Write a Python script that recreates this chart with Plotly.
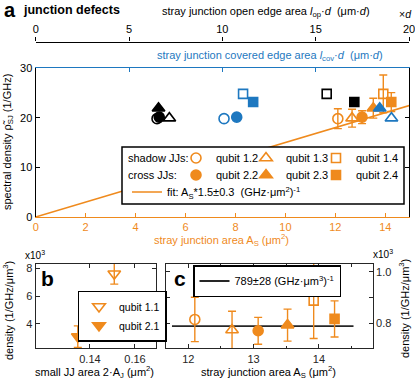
import plotly.graph_objects as go

W, H = 415, 379
FONT = "Liberation Sans, Arial, sans-serif"
ORANGE = "#EF8A1D"
BLUE = "#1E78C0"
BLACK = "#000000"
AXC = "#262626"

# ---------------- data ----------------
qubits = ["1.2", "1.3", "1.4", "2.2", "2.3", "2.4"]
symbols = ["circle-open", "triangle-up-open", "square-open", "circle", "triangle-up", "square"]
msizes = [10, 11, 9, 10, 11, 9]

# panel a
area_S = [12.10, 12.67, 13.92, 13.07, 13.52, 14.24]        # stray junction area (um^2)
open_edge = [6.5, 7.16, 15.59, 6.62, 6.58, 17.07]          # l_op * d
cov_edge = [10.09, 19.06, 11.11, 10.77, 18.43, 11.65]      # l_cov * d
rho_SJ = [19.8, 19.9, 24.8, 20.1, 21.9, 23.15]             # 1/GHz
rho_SJ_err = [2.0, 1.8, 3.8, 1.3, 2.0, 1.9]
fit_x = [0, 15]
fit_y = [0, 22.5]

# panel b
b_qubits = ["1.1", "2.1"]
b_symbols = ["triangle-down-open", "triangle-down"]
jj_area = [0.1508, 0.1346]
rho_b = [7.61, 3.09]        # x10^3
rho_b_err = [0.75, 0.77]

# panel c
rho_c = [0.815, 0.774, 0.888, 0.771, 0.793, 0.817]   # x10^3
rho_c_err = [0.086, 0.073, 0.147, 0.052, 0.062, 0.070]
c_fit_x = [11.75, 14.53]
c_fit_y = [0.789, 0.789]


def px(x):
    return x / W


def py(y):
    return 1 - y / H


fig = go.Figure()

# black (open edge, top axis) and blue (covered edge) markers
for i in range(6):
    fig.add_trace(go.Scatter(x=[open_edge[i]], y=[rho_SJ[i]], xaxis="x2", yaxis="y", mode="markers",
                             marker=dict(symbol=symbols[i], size=msizes[i], color=BLACK,
                                         line=dict(width=1.6, color=BLACK)), showlegend=False))
for i in range(6):
    fig.add_trace(go.Scatter(x=[cov_edge[i]], y=[rho_SJ[i]], xaxis="x3", yaxis="y", mode="markers",
                             marker=dict(symbol=symbols[i], size=msizes[i], color=BLUE,
                                         line=dict(width=1.6, color=BLUE)), showlegend=False))

# fit line
fig.add_trace(go.Scatter(x=fit_x, y=fit_y, xaxis="x", yaxis="y", mode="lines",
                         line=dict(color=ORANGE, width=1.5),
                         name="fit: A<sub>S</sub>*1.5±0.3\u00a0\u00a0(GHz·μm<sup>2</sup>)<sup>-1</sup>",
                         legend="legend7"))

legnames = ["legend", "legend2", "legend3", "legend4", "legend5", "legend6"]
for i in range(6):
    fig.add_trace(go.Scatter(x=[area_S[i]], y=[rho_SJ[i]], xaxis="x", yaxis="y", mode="markers",
                             marker=dict(symbol=symbols[i], size=msizes[i], color=ORANGE,
                                         line=dict(width=1.6, color=ORANGE)),
                             error_y=dict(type="data", array=[rho_SJ_err[i]], color=ORANGE, thickness=1.4, width=4),
                             name="qubit " + qubits[i], legend=legnames[i]))

# panel b
for i in range(2):
    fig.add_trace(go.Scatter(x=[jj_area[i]], y=[rho_b[i]], xaxis="x4", yaxis="y2", mode="markers",
                             marker=dict(symbol=b_symbols[i], size=11, color=ORANGE,
                                         line=dict(width=1.6, color=ORANGE)),
                             error_y=dict(type="data", array=[rho_b_err[i]], color=ORANGE, thickness=1.4, width=4),
                             name="qubit " + b_qubits[i], legend="legend8"))

# panel c
fig.add_trace(go.Scatter(x=c_fit_x, y=c_fit_y, xaxis="x5", yaxis="y3", mode="lines",
                         line=dict(color=AXC, width=1.8),
                         name="789±28 (GHz·μm<sup>3</sup>)<sup>-1</sup>", legend="legend9"))
for i in range(6):
    fig.add_trace(go.Scatter(x=[area_S[i]], y=[rho_c[i]], xaxis="x5", yaxis="y3", mode="markers",
                             marker=dict(symbol=symbols[i], size=msizes[i], color=ORANGE,
                                         line=dict(width=1.6, color=ORANGE)),
                             error_y=dict(type="data", array=[rho_c_err[i]], color=ORANGE, thickness=1.4, width=4),
                             showlegend=False))

tf = dict(family=FONT, size=11)
common = dict(showgrid=False, zeroline=False, ticks="inside", ticklen=4, tickwidth=1, linewidth=1.3,
              automargin=False, ticklabeloverflow="allow")

dom_a_x = [px(35.7), px(409)]
dom_a_y = [py(217), py(68)]
dom_bc_y = [py(348.3), py(264)]

fig.update_layout(
    xaxis=dict(**common, domain=dom_a_x, range=[0, 14.95], tickvals=[0, 2, 4, 6, 8, 10, 12, 14],
               anchor="y", linecolor=ORANGE, tickcolor=ORANGE, tickfont=dict(**tf, color=ORANGE),
               showline=True, mirror=False),
    yaxis=dict(**common, domain=dom_a_y, range=[0, 30], tickvals=[0, 10, 20, 30], anchor="x",
               linecolor=BLACK, tickcolor=BLACK, tickfont=dict(**tf, color=BLACK), showline=True, mirror="ticks"),
    xaxis2=dict(showgrid=False, zeroline=False, overlaying="x", anchor="free", position=py(41.5), side="top",
                range=[0, 20], tickvals=[0, 5, 10, 15, 20], ticks="outside", ticklen=4, tickwidth=1,
                linecolor=BLACK, linewidth=1.3, tickcolor=BLACK, showline=True, automargin=False,
                ticklabeloverflow="allow", tickfont=dict(**tf, color=BLACK)),
    xaxis3=dict(showgrid=False, zeroline=False, overlaying="x", anchor="y", side="top",
                range=[0, 20], tickvals=[0, 5, 10, 15, 20], ticks="inside", ticklen=4, tickwidth=1,
                linecolor=BLUE, linewidth=1.3, tickcolor=BLUE, showline=True, showticklabels=False,
                automargin=False),
    xaxis4=dict(**common, domain=[px(35.7), px(155.7)], range=[0.1159, 0.1692], tickvals=[0.14, 0.16],
                anchor="y2", linecolor=AXC, tickcolor=AXC, tickfont=dict(**tf, color=AXC), showline=True,
                mirror="ticks"),
    yaxis2=dict(**common, domain=dom_bc_y, range=[2.25, 8.31], tickvals=[4, 6, 8], anchor="x4",
                linecolor=AXC, tickcolor=AXC, tickfont=dict(**tf, color=AXC), showline=True, mirror="ticks"),
    xaxis5=dict(**common, domain=[px(165.7), px(372.7)], range=[11.654, 14.824], tickvals=[12, 13, 14],
                minor=dict(dtick=0.5, ticks="inside", ticklen=2.5, tickcolor=AXC),
                anchor="y3", linecolor=AXC, tickcolor=AXC, tickfont=dict(**tf, color=AXC), showline=True,
                mirror="ticks"),
    yaxis3=dict(**common, domain=dom_bc_y, range=[0.703, 1.030], tickvals=[0.8, 1.0], ticktext=["0.8", "1.0"],
                minor=dict(dtick=0.1, ticks="inside", ticklen=4, tickcolor=AXC),
                anchor="x5", side="right", linecolor=AXC, tickcolor=AXC, tickfont=dict(**tf, color=AXC),
                showline=True, mirror="ticks"),
)

# legends
def leg(xl, yc, border=False, size=11):
    d = dict(x=px(xl), y=py(yc), xanchor="left", yanchor="middle", orientation="v",
             font=dict(family=FONT, size=size, color="black"), itemwidth=30, tracegroupgap=0)
    if border:
        d.update(bgcolor="white", bordercolor="black", borderwidth=1.5)
    else:
        d.update(bgcolor="rgba(0,0,0,0)", borderwidth=0)
    return d

row1_y, row2_y, row3_y = 158, 175, 192
cols = [176, 246, 316]
fig.update_layout(
    legend=leg(cols[0], row1_y), legend2=leg(cols[1], row1_y), legend3=leg(cols[2], row1_y),
    legend4=leg(cols[0], row2_y), legend5=leg(cols[1], row2_y), legend6=leg(cols[2], row2_y),
    legend7=leg(127, row3_y),
    legend8=leg(77.5, 316, border=True, size=10.5),
    legend9=leg(193, 281, border=True),
)

# legend box for panel a
fig.add_shape(type="rect", xref="paper", yref="paper", x0=px(122), x1=px(404), y0=py(204), y1=py(147),
              fillcolor="white", line=dict(color="black", width=1.5), layer="above")

ann = []


def A(text, x, y, size=11, color="black", xanchor="center", textangle=0):
    ann.append(dict(text=text, x=px(x), y=py(y), xref="paper", yref="paper", showarrow=False,
                    font=dict(family=FONT, size=size, color=color), xanchor=xanchor, yanchor="middle",
                    textangle=textangle))


A("<b>a</b>", 2, 10, size=20, xanchor="left")
A("<b>junction defects</b>", 21, 10, size=12.5, xanchor="left")
A("stray junction open edge area <i>l</i><sub>op</sub>·<i>d</i>\u00a0\u00a0(μm·<i>d</i>)", 266, 12.5)
A("×<i>d</i>", 405, 14, size=10.5)
A("stray junction covered edge area <i>l</i><sub>cov</sub>·<i>d</i>\u00a0\u00a0(μm·<i>d</i>)", 270, 55.5, color=BLUE)
A("spectral density ρ̃<sub>SJ</sub> (1/GHz)", 8, 142, textangle=-90)
A("stray junction area A<sub>S</sub> (μm<sup>2</sup>)", 221, 240, color=ORANGE)
A("shadow JJs:", 126, row1_y, xanchor="left")
A("cross JJs:", 126, row2_y, xanchor="left")
A("<b>b</b>", 47.5, 278, size=21)
A("<b>c</b>", 180, 278, size=21)
A("x10<sup>3</sup>", 35, 255, size=10)
A("x10<sup>3</sup>", 383, 254, size=10)
A("density (1/GHz/μm<sup>3</sup>)", 8, 311, textangle=-90)
A("density (1/GHz/μm<sup>3</sup>)", 404, 309, textangle=-90)
A("small JJ area 2·A<sub>J</sub> (μm<sup>2</sup>)", 94, 372)
A("stray junction area A<sub>S</sub> (μm<sup>2</sup>)", 268, 372)

fig.update_layout(annotations=ann, width=W, height=H, margin=dict(l=0, r=0, t=0, b=0),
                  paper_bgcolor="white", plot_bgcolor="white", font=dict(family=FONT, size=11))

fig.write_html("out.html", config={"displayModeBar": False},
               post_script="document.body.style.margin='0';document.body.style.padding='0';"
                           "document.body.style.overflow='hidden';")
